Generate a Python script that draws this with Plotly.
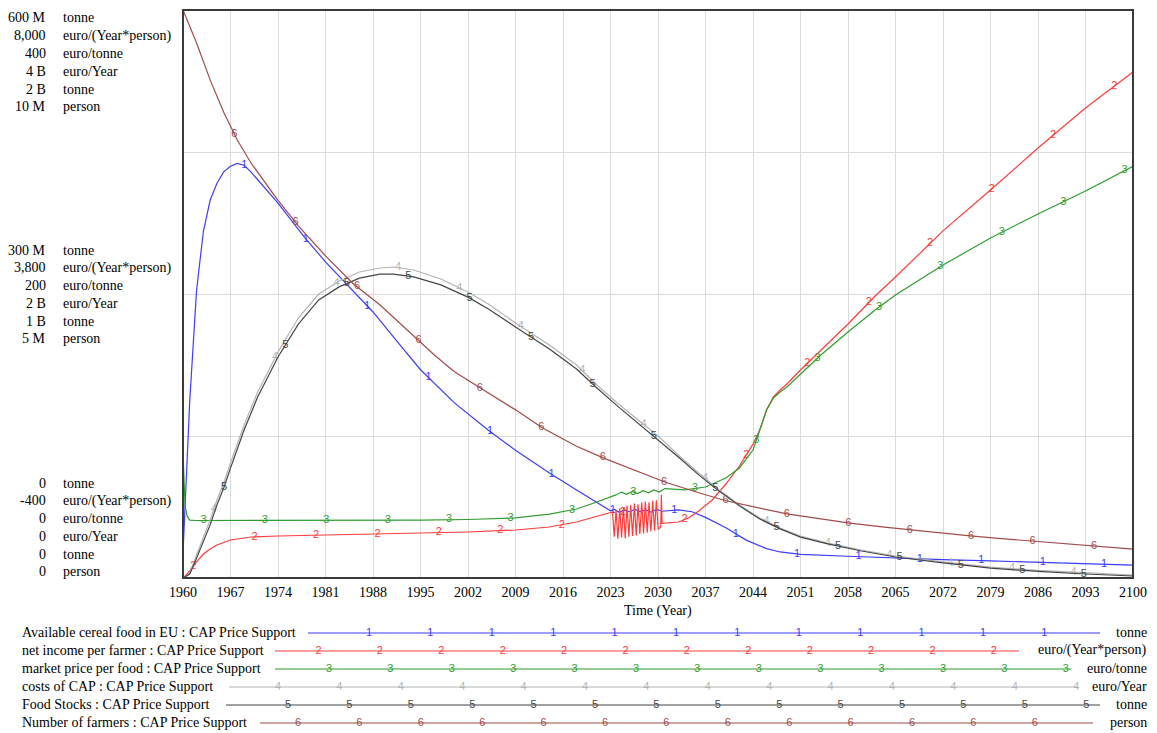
import numpy as np
import plotly.graph_objects as go

# ---------------------------------------------------------------- data
# Available cereal food in EU (million tonne)
food_years = [1960, 1960.02, 1961, 1962, 1963, 1964, 1965, 1966, 1967, 1968, 1969, 1970,
              1974, 1978, 1981, 1985, 1988, 1992, 1995, 2000, 2005, 2009, 2014, 2018,
              2021, 2023, 2023.6, 2024.3, 2025, 2025.8, 2026.6, 2027.4, 2028.2, 2029,
              2029.8, 2030.6, 2033, 2035, 2037, 2040, 2043, 2046, 2048, 2051, 2058,
              2065, 2072, 2079, 2086, 2093, 2100]
food_mt = [0, 30, 188, 304, 366, 399, 417, 429, 435, 438, 436, 429,
           396, 359, 334, 304, 281, 246, 220, 185, 156, 135, 111, 93,
           80, 71, 72.5, 69.5, 72, 70, 72.5, 70, 72, 69.5,
           72.5, 70.5, 72, 70, 64, 53, 40, 31, 27.5, 25, 23,
           21, 19.5, 18, 16.4, 14.8, 13.7]

# net income per farmer (euro/(Year*person))
income_years = [1960, 1961, 1962, 1963, 1964, 1965, 1967, 1970, 1974, 1981, 1988, 1995,
                2002, 2009, 2014, 2018, 2021, 2023.3,
                2023.55, 2023.82, 2024.09, 2024.36, 2024.63, 2024.90, 2025.17, 2025.44,
                2025.71, 2025.98, 2026.25, 2026.52, 2026.79, 2027.06, 2027.33, 2027.60,
                2027.87, 2028.14, 2028.41, 2028.68, 2028.95, 2029.22, 2029.49, 2029.76,
                2030.03, 2030.4, 2030.5, 2030.6,
                2033, 2034.5, 2036, 2038, 2040, 2042, 2044, 2045, 2046, 2047, 2048, 2049,
                2051, 2054, 2058, 2062, 2065, 2072, 2079, 2086, 2093, 2100]
income = [-400, -296, -163, -45, 29, 88, 162, 206, 221, 236, 251, 265,
          280, 310, 354, 428, 517, 576,
          210, 600, 180, 630, 200, 640, 190, 670,
          210, 680, 220, 700, 230, 690, 250, 720,
          260, 730, 270, 720, 290, 740, 300, 750,
          320, 350, 830, 410,
          428, 487, 591, 754, 990, 1256, 1580, 1789, 2085, 2277, 2380, 2469,
          2676, 2972, 3357, 3771, 4052, 4733, 5338, 5959, 6551, 7084]

# market price per food (euro/tonne)
price_years = [1960, 1960.3, 1960.6, 1961, 1962, 1970, 1981, 1995, 2002, 2009, 2014,
               2018, 2021, 2023, 2023.8, 2024.6, 2025.4, 2026.2, 2027, 2027.8, 2028.6,
               2029.4, 2030.2, 2031, 2034, 2037, 2040, 2042, 2044, 2045, 2046, 2047,
               2048, 2049, 2051, 2054, 2058, 2062, 2065, 2072, 2079, 2086, 2093, 2100]
price = [88.7, 51, 43.7, 40.8, 40.5, 40.5, 40.5, 40.8, 41.2, 42.3, 45,
         48.6, 53.5, 57, 58.5, 60.5, 59, 61, 59.5, 61.5, 60,
         62, 60.5, 63, 62, 64.1, 70.4, 77.5, 90.1, 104.2, 118.3, 126.8,
         131, 134.5, 143.7, 157, 173.2, 188.7, 199.3, 220.4, 239.4, 256.3, 272.5, 290]

# costs of CAP (billion euro/Year) and Food Stocks (billion tonne)
stock_years = [1960, 1961, 1962, 1963, 1964, 1965, 1966, 1967, 1969, 1971, 1974, 1977,
               1980, 1983, 1986, 1989, 1991, 1994, 1998, 2002, 2005, 2009, 2014, 2018,
               2021, 2024, 2027, 2030, 2033, 2036, 2039, 2042, 2045, 2048, 2051, 2055,
               2060, 2065, 2072, 2079, 2086, 2093, 2100]
cap_costs = [0, 0.035, 0.162, 0.282, 0.408, 0.549, 0.669, 0.81, 1.077, 1.31, 1.592, 1.831,
             2.0, 2.09, 2.155, 2.183, 2.19, 2.169, 2.106, 2.014, 1.93, 1.796, 1.641, 1.5,
             1.359, 1.232, 1.113, 1.0, 0.866, 0.739, 0.62, 0.514, 0.423, 0.352, 0.296,
             0.246, 0.197, 0.155, 0.113, 0.077, 0.053, 0.035, 0.021]
food_stocks = [0, 0.014, 0.07, 0.127, 0.187, 0.257, 0.317, 0.387, 0.521, 0.637, 0.778, 0.894,
               0.979, 1.025, 1.056, 1.07, 1.07, 1.06, 1.032, 0.989, 0.947, 0.884, 0.806,
               0.736, 0.669, 0.606, 0.546, 0.489, 0.426, 0.363, 0.306, 0.254, 0.208, 0.173,
               0.144, 0.12, 0.095, 0.074, 0.053, 0.035, 0.023, 0.014, 0.007]

# Number of farmers (million person)
farmer_years = [1960, 1962, 1964, 1966, 1968, 1970, 1974, 1977, 1981, 1985, 1989, 1993,
                1997, 2000, 2004, 2009, 2013, 2018, 2022, 2027, 2031, 2036, 2040, 2045,
                2049, 2054, 2058, 2063, 2067, 2072, 2076, 2081, 2085, 2090, 2095, 2100]
farmers = [10, 9.42, 8.77, 8.2, 7.71, 7.31, 6.65, 6.2, 5.67, 5.19, 4.81, 4.37,
           3.93, 3.63, 3.33, 2.96, 2.64, 2.32, 2.11, 1.87, 1.69, 1.5, 1.36, 1.23,
           1.13, 1.04, 0.97, 0.9, 0.85, 0.79, 0.74, 0.69, 0.65, 0.6, 0.56, 0.51]

series_names = ["Available cereal food in EU : CAP Price Support",
                "net income per farmer : CAP Price Support",
                "market price per food : CAP Price Support",
                "costs of CAP : CAP Price Support",
                "Food Stocks : CAP Price Support",
                "Number of farmers : CAP Price Support"]
series_units = ["tonne", "euro/(Year*person)", "euro/tonne", "euro/Year", "tonne", "person"]

# axis scale labels, one row per series: (top, middle, bottom)
scale_top = ["600 M", "8,000", "400", "4 B", "2 B", "10 M"]
scale_mid = ["300 M", "3,800", "200", "2 B", "1 B", "5 M"]
scale_bot = ["0", "-400", "0", "0", "0", "0"]
# axis ranges in the stored units
scale_ranges = [(0, 600), (-400, 8000), (0, 400), (0, 4), (0, 2), (0, 10)]

year_ticks = list(range(1960, 2101, 7))

# ---------------------------------------------------------------- style
W, H = 1157, 733
PX0, PX1, PY0, PY1 = 183, 1133, 10, 578          # plot frame in pixels
colors = ["#3c3cff", "#ff3b3b", "#2f9e2f", "#b4b4b4", "#454545", "#a34b4b"]
SERIF = "Liberation Serif"
SANS = "Liberation Sans"

xs = [food_years, income_years, price_years, stock_years, stock_years, farmer_years]
ys = [food_mt, income, price, cap_costs, food_stocks, farmers]

fig = go.Figure()

xdom = [PX0 / W, PX1 / W]
ydom = [1 - PY1 / H, 1 - PY0 / H]

# series number tags sit every ~9 years, staggered per series
TAG_STEP = 9.05
TAG_SHIFT = 1.51
for i in range(6):
    ax = "y" if i == 0 else f"y{i + 1}"
    fig.add_trace(go.Scatter(x=xs[i], y=ys[i], mode="lines", yaxis=ax, xaxis="x",
                             line=dict(color=colors[i], width=1.2), hoverinfo="skip",
                             showlegend=False))
for i in range(6):
    ax = "y" if i == 0 else f"y{i + 1}"
    start = 1960 + TAG_SHIFT * i + (TAG_STEP if i == 0 else 0)
    tx = np.arange(start, 2100.01, TAG_STEP)
    ty = np.interp(tx, xs[i], ys[i])
    fig.add_trace(go.Scatter(x=tx, y=ty, mode="text", text=[str(i + 1)] * len(tx),
                             textposition="middle center", yaxis=ax, xaxis="x",
                             textfont=dict(family=SANS, size=11, color=colors[i]),
                             hoverinfo="skip", showlegend=False))

# ---------------------------------------------------------------- legend rows (pixel axes)
row_y = [632, 650, 668, 686, 704, 722]
line_start = [308, 275, 275, 229, 226, 260]
line_end = [1100, 1019, 1071, 1078, 1100, 1093]
tag_first = [369, 318.5, 329, 278, 288, 298]
tag_count = [12, 12, 13, 14, 14, 13]
for i in range(6):
    fig.add_trace(go.Scatter(x=[line_start[i], line_end[i]], y=[row_y[i] + 1, row_y[i] + 1],
                             mode="lines", xaxis="x2", yaxis="y7",
                             line=dict(color=colors[i], width=1.2), hoverinfo="skip",
                             showlegend=False))
    lx = tag_first[i] + 61.4 * np.arange(tag_count[i])
    fig.add_trace(go.Scatter(x=lx, y=[row_y[i] + 1] * len(lx), mode="text",
                             text=[str(i + 1)] * len(lx), xaxis="x2", yaxis="y7",
                             textfont=dict(family=SANS, size=11, color=colors[i]),
                             hoverinfo="skip", showlegend=False))

annotations = []
for i in range(6):
    annotations.append(dict(x=20 / W, y=1 - row_y[i] / H, xref="paper", yref="paper",
                            text=series_names[i], showarrow=False, xanchor="left",
                            yanchor="middle", font=dict(family=SERIF, size=14, color="black")))
    annotations.append(dict(x=1149 / W, y=1 - row_y[i] / H, xref="paper", yref="paper",
                            text=series_units[i], showarrow=False, xanchor="right",
                            yanchor="middle", font=dict(family=SERIF, size=14, color="black")))

# stacked scale labels on the left
blocks = [(scale_top, 18), (scale_mid, 250), (scale_bot, 483)]
for labels, y_first in blocks:
    for i in range(6):
        py = y_first + 17.75 * i
        annotations.append(dict(x=48 / W, y=1 - py / H, xref="paper", yref="paper",
                                text=labels[i], showarrow=False, xanchor="right",
                                yanchor="middle",
                                font=dict(family=SERIF, size=14, color="black")))
        annotations.append(dict(x=61 / W, y=1 - py / H, xref="paper", yref="paper",
                                text=series_units[i], showarrow=False, xanchor="left",
                                yanchor="middle",
                                font=dict(family=SERIF, size=14, color="black")))

annotations.append(dict(x=((PX0 + PX1) / 2) / W, y=1 - 611 / H, xref="paper", yref="paper",
                        text="Time (Year)", showarrow=False, xanchor="center", yanchor="middle",
                        font=dict(family=SERIF, size=14, color="black")))

layout = dict(
    width=W, height=H, autosize=False,
    margin=dict(l=0, r=0, t=0, b=0, pad=0, autoexpand=False),
    paper_bgcolor="white", plot_bgcolor="rgba(0,0,0,0)",
    showlegend=False,
    xaxis=dict(domain=xdom, range=[1960, 2100], tickvals=year_ticks,
               ticktext=[str(t) for t in year_ticks], ticks="", showgrid=True,
               gridcolor="#dcdcdc", gridwidth=1, zeroline=False, showline=False,
               automargin=False, ticklabelstandoff=4,
               tickfont=dict(family=SERIF, size=14, color="black"), anchor="y"),
    yaxis=dict(domain=ydom, range=list(scale_ranges[0]), tickvals=[150, 300, 450],
               showticklabels=False, ticks="", showgrid=True, gridcolor="#dcdcdc",
               zeroline=False, showline=False, automargin=False, anchor="x"),
    xaxis2=dict(domain=[0, 1], range=[0, W], visible=False, automargin=False, anchor="y7"),
    yaxis7=dict(domain=[0, 1], range=[H, 0], visible=False, automargin=False, anchor="x2"),
    annotations=annotations,
    shapes=[dict(type="rect", xref="paper", yref="paper", x0=xdom[0], x1=xdom[1],
                 y0=ydom[0], y1=ydom[1], line=dict(color="#3a3a3a", width=2), layer="above")],
)
for i in range(1, 6):
    layout[f"yaxis{i + 1}"] = dict(overlaying="y", range=list(scale_ranges[i]), visible=False,
                                   anchor="x", showgrid=False, zeroline=False,
                                   automargin=False)

fig.update_layout(**layout)
fig.write_html("out.html")
